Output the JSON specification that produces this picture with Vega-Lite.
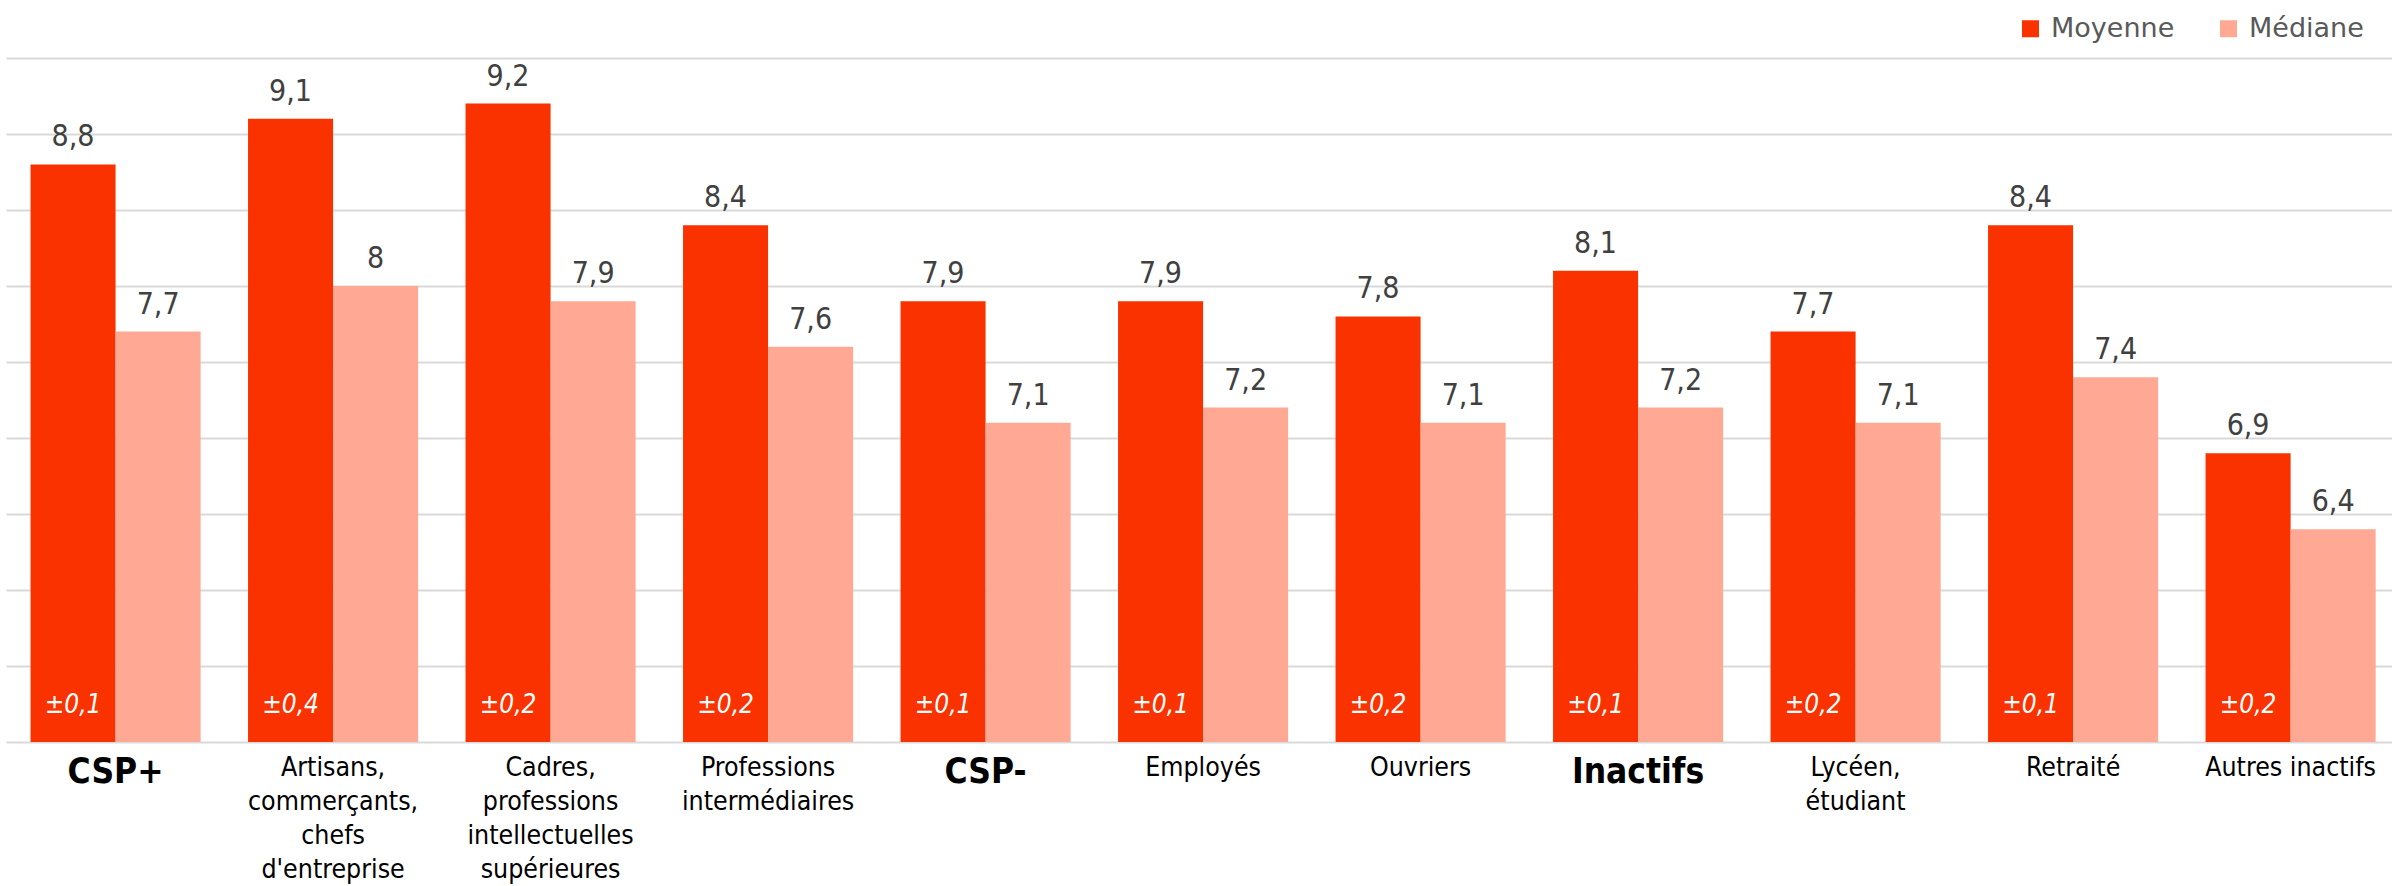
{
  "$schema": "https://vega.github.io/schema/vega-lite/v6.json",
  "width": 2386,
  "height": 684,
  "autosize": {"type": "none"},
  "padding": {"left": 6, "top": 58, "right": 0, "bottom": 144},
  "background": "white",
  "config": {
    "view": {"stroke": null},
    "locale": {"number": {"decimal": ",", "thousands": " ", "grouping": [3], "currency": ["", " €"]}}
  },
  "data": {
    "values": [
      {"categorie": "CSP+", "mesure": "Moyenne", "valeur": 8.8, "marge": 0.1},
      {"categorie": "CSP+", "mesure": "Médiane", "valeur": 7.7, "marge": null},
      {"categorie": "Artisans,\ncommerçants,\nchefs\nd'entreprise", "mesure": "Moyenne", "valeur": 9.1, "marge": 0.4},
      {"categorie": "Artisans,\ncommerçants,\nchefs\nd'entreprise", "mesure": "Médiane", "valeur": 8.0, "marge": null},
      {"categorie": "Cadres,\nprofessions\nintellectuelles\nsupérieures", "mesure": "Moyenne", "valeur": 9.2, "marge": 0.2},
      {"categorie": "Cadres,\nprofessions\nintellectuelles\nsupérieures", "mesure": "Médiane", "valeur": 7.9, "marge": null},
      {"categorie": "Professions\nintermédiaires", "mesure": "Moyenne", "valeur": 8.4, "marge": 0.2},
      {"categorie": "Professions\nintermédiaires", "mesure": "Médiane", "valeur": 7.6, "marge": null},
      {"categorie": "CSP-", "mesure": "Moyenne", "valeur": 7.9, "marge": 0.1},
      {"categorie": "CSP-", "mesure": "Médiane", "valeur": 7.1, "marge": null},
      {"categorie": "Employés", "mesure": "Moyenne", "valeur": 7.9, "marge": 0.1},
      {"categorie": "Employés", "mesure": "Médiane", "valeur": 7.2, "marge": null},
      {"categorie": "Ouvriers", "mesure": "Moyenne", "valeur": 7.8, "marge": 0.2},
      {"categorie": "Ouvriers", "mesure": "Médiane", "valeur": 7.1, "marge": null},
      {"categorie": "Inactifs", "mesure": "Moyenne", "valeur": 8.1, "marge": 0.1},
      {"categorie": "Inactifs", "mesure": "Médiane", "valeur": 7.2, "marge": null},
      {"categorie": "Lycéen,\nétudiant", "mesure": "Moyenne", "valeur": 7.7, "marge": 0.2},
      {"categorie": "Lycéen,\nétudiant", "mesure": "Médiane", "valeur": 7.1, "marge": null},
      {"categorie": "Retraité", "mesure": "Moyenne", "valeur": 8.4, "marge": 0.1},
      {"categorie": "Retraité", "mesure": "Médiane", "valeur": 7.4, "marge": null},
      {"categorie": "Autres inactifs", "mesure": "Moyenne", "valeur": 6.9, "marge": 0.2},
      {"categorie": "Autres inactifs", "mesure": "Médiane", "valeur": 6.4, "marge": null}
    ]
  },
  "encoding": {
    "x": {
      "field": "categorie",
      "type": "nominal",
      "sort": null,
      "scale": {"paddingInner": 0.218, "paddingOuter": 0.094, "align": 0.6},
      "axis": {
        "title": null,
        "domain": false,
        "ticks": false,
        "tickSize": 0,
        "labelPadding": 12,
        "labelAngle": 0,
        "labelBaseline": "top",
        "labelFont": "DejaVu Sans Condensed",
        "labelFontSize": {"condition": {"test": "indexof(['CSP+','CSP-','Inactifs'], datum.value) >= 0", "value": 35}, "value": 26.5},
        "labelFontWeight": {"condition": {"test": "indexof(['CSP+','CSP-','Inactifs'], datum.value) >= 0", "value": "bold"}, "value": "normal"},
        "labelColor": "#000000",
        "labelLineHeight": 34,
        "labelLimit": 400,
        "labelOverlap": false,
        "labelExpr": "split(datum.value, '\\n')"
      }
    },
    "xOffset": {"field": "mesure", "type": "nominal", "sort": ["Moyenne", "Médiane"]},
    "y": {
      "field": "valeur",
      "type": "quantitative",
      "scale": {"domain": [5, 9.5], "zero": false, "nice": false},
      "axis": {
        "title": null,
        "values": [5, 5.5, 6, 6.5, 7, 7.5, 8, 8.5, 9, 9.5],
        "labels": false,
        "ticks": false,
        "domain": false,
        "grid": true,
        "gridColor": "#d9d9d9",
        "gridWidth": 2
      }
    }
  },
  "layer": [
    {
      "mark": {"type": "bar", "clip": true},
      "encoding": {
        "color": {
          "field": "mesure",
          "type": "nominal",
          "sort": ["Moyenne", "Médiane"],
          "scale": {"domain": ["Moyenne", "Médiane"], "range": ["#F93200", "#FFA894"]},
          "legend": {
            "title": null,
            "orient": "none",
            "legendX": 2011,
            "legendY": -43,
            "direction": "horizontal",
            "symbolType": "square",
            "symbolSize": 289,
            "symbolStrokeWidth": 0,
            "symbolOpacity": 1,
            "labelFont": "DejaVu Sans",
            "labelFontSize": 27,
            "labelColor": "#595959",
            "labelOffset": 7,
            "columnPadding": 40
          }
        }
      }
    },
    {
      "mark": {"type": "text", "font": "DejaVu Sans Condensed", "fontSize": 30, "color": "#404040", "baseline": "alphabetic", "dy": -18},
      "encoding": {
        "text": {"field": "valeur", "type": "quantitative", "format": ".1~f"}
      }
    },
    {
      "transform": [{"filter": "datum.mesure == 'Moyenne'"}],
      "mark": {"type": "text", "font": "DejaVu Sans Condensed", "fontSize": 26, "fontStyle": "italic", "color": "#ffffff", "baseline": "middle", "dy": -37, "text": {"expr": "'±' + format(datum.marge, '.1f')"}},
      "encoding": {
        "y": {"datum": 5, "type": "quantitative"}
      }
    }
  ]
}
